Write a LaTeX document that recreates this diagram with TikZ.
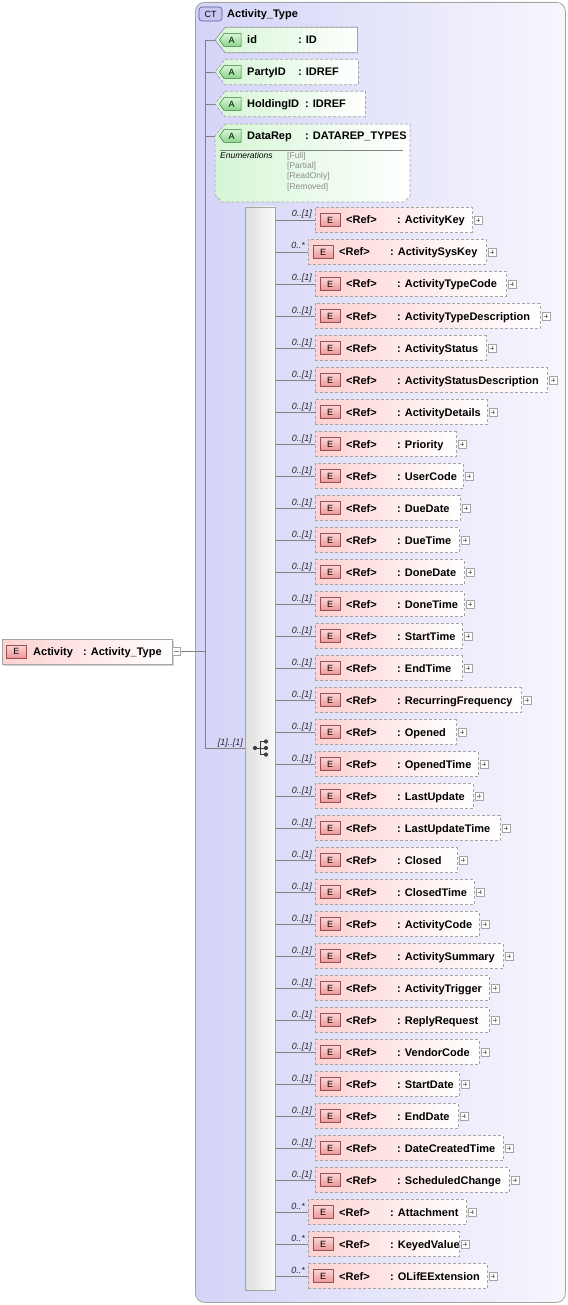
\documentclass[tikz,border=0pt]{standalone}
\usepackage{fontspec}
\setmainfont{Liberation Sans}
\usetikzlibrary{calc,shadows}
\definecolor{pinkL}{RGB}{253,210,210}
\definecolor{greenL}{RGB}{214,246,214}
\definecolor{lavL}{RGB}{212,212,248}
\definecolor{lavR}{RGB}{246,246,253}
\definecolor{lineC}{RGB}{130,130,130}
\definecolor{brd}{RGB}{165,165,165}
\definecolor{eTop}{RGB}{252,214,214}
\definecolor{eBot}{RGB}{238,150,150}
\definecolor{eBrd}{RGB}{150,80,80}
\definecolor{aTop}{RGB}{214,246,214}
\definecolor{aBot}{RGB}{140,210,140}
\definecolor{aBrd}{RGB}{60,120,60}
\definecolor{ctFill}{RGB}{200,200,242}
\definecolor{ctBrd}{RGB}{90,90,150}
\definecolor{multC}{RGB}{40,40,40}
\definecolor{enumC}{RGB}{140,140,140}
\definecolor{dotC}{RGB}{60,60,60}
\definecolor{seqL}{RGB}{222,222,222}
\definecolor{seqR}{RGB}{250,250,250}
\newcommand\mlone{0..[1]}
\newcommand\mlmany{0..*}
\begin{document}
\begin{tikzpicture}[x=1pt,y=-1pt,
  conn/.style={draw=lineC,line width=0.7pt},
  elbox/.style={draw=brd,dash pattern=on 3pt off 2pt,line width=0.7pt,left color=pinkL,right color=white,inner sep=0pt,minimum height=25pt,anchor=west},
  mainbox/.style={draw=brd,line width=0.7pt,left color=pinkL,right color=white,inner sep=0pt,minimum height=25pt,anchor=west,drop shadow={shadow xshift=2pt,shadow yshift=-2pt,fill=gray,opacity=0.35}},
  ebadge/.style={draw=eBrd,line width=0.5pt,top color=eTop,bottom color=eBot,minimum width=20pt,minimum height=13pt,inner sep=0pt,font=\fontsize{9}{9}\selectfont},
  nametxt/.style={font=\bfseries\fontsize{11}{13}\selectfont,inner sep=0pt,anchor=base west},
  mult/.style={font=\itshape\fontsize{9}{10}\selectfont,inner sep=0pt,anchor=base east,text=multC},
  plusic/.style={draw=brd,fill=white,minimum size=8pt,inner sep=0pt,line width=0.5pt,
    path picture={\draw[lineC,line width=0.6pt] ([xshift=1.8pt]path picture bounding box.west) -- ([xshift=-1.8pt]path picture bounding box.east) ([yshift=-1.8pt]path picture bounding box.north) -- ([yshift=1.8pt]path picture bounding box.south);}},
  minusic/.style={draw=brd,fill=white,minimum size=8pt,inner sep=0pt,line width=0.5pt,
    path picture={\draw[lineC,line width=0.6pt] ([xshift=1.8pt]path picture bounding box.west) -- ([xshift=-1.8pt]path picture bounding box.east);}},
  attrbox/.style={draw=brd,line width=0.7pt,left color=greenL,right color=white},
  abadge/.style={draw=aBrd,line width=0.5pt,top color=aTop,bottom color=aBot},
  enumtxt/.style={font=\fontsize{8.5}{9}\selectfont,inner sep=0pt,anchor=base west,text=enumC}
]
\useasboundingbox (0,0) rectangle (567,1305);

% complex type container
\node[draw=brd,line width=0.8pt,rounded corners=9pt,left color=lavL,right color=lavR,minimum width=370pt,minimum height=1300pt,inner sep=0pt,anchor=north west] (ct) at (195,2) {};
\node[draw=ctBrd,line width=0.6pt,fill=ctFill,rounded corners=3pt,minimum width=23pt,minimum height=14pt,inner sep=0pt,font=\fontsize{9}{9}\selectfont] (ctb) at (210.5,14) {CT};
\node[nametxt] (ctt) at (227,18) {Activity\_Type};

% junction
\coordinate (jn) at (205,748);

% attributes
\foreach \k/\nm/\ty/\yy/\rx/\cx/\dsh in {1/id/ID/40/357/298/solid,2/PartyID/IDREF/72/358/298/dashed,3/HoldingID/IDREF/104/365/305/dashed}{
  \pgfmathsetmacro\ww{\rx-215}
  \node[inner sep=0pt,minimum width=\ww pt,minimum height=25pt,anchor=west] (a\k) at (215,\yy) {};
  \draw[attrbox,\dsh,dash pattern=on 3pt off 2pt] ([xshift=10pt]a\k.north west) -- (a\k.north east) -- (a\k.south east) -- ([xshift=10pt]a\k.south west) -- (a\k.west) -- cycle;
  \draw[abadge] (224,\yy-6.5) -- (241,\yy-6.5) -- (241,\yy+6.5) -- (224,\yy+6.5) -- (219.5,\yy) -- cycle;
  \node[font=\fontsize{9}{9}\selectfont,inner sep=0pt] (ab\k) at (231.5,\yy) {A};
  \node[nametxt] (an\k) at (247,\yy+4) {\nm};
  \node[nametxt] (at\k) at (\cx,\yy+4) {: \ty};
}
\ifdefined\relax\fi
% solid border for id
\draw[brd,line width=0.7pt] ([xshift=10pt]a1.north west) -- (a1.north east) -- (a1.south east) -- ([xshift=10pt]a1.south west) -- (a1.west) -- cycle;

% DataRep attribute
\node[inner sep=0pt,minimum width=195pt,minimum height=78pt,anchor=north west] (a4) at (215,124) {};
\coordinate (a4p) at (215,136);
\draw[attrbox,dash pattern=on 3pt off 2pt] (225,124) -- (410,124) -- (410,196) -- (404,202) -- (222,202) -- (215,195) -- (a4p) -- cycle;
\draw[abadge] (224,129.5) -- (241,129.5) -- (241,142.5) -- (224,142.5) -- (219.5,136) -- cycle;
\node[font=\fontsize{9}{9}\selectfont,inner sep=0pt] (ab4) at (231.5,136) {A};
\node[nametxt] (an4) at (247,140) {DataRep};
\node[nametxt] (at4) at (305,140) {: DATAREP\_TYPES};
\draw[lineC,line width=0.5pt] (220,150) -- (403,150);
\node[font=\itshape\fontsize{8.5}{9}\selectfont,inner sep=0pt,anchor=base west] (enl) at (220,159) {Enumerations};
\node[enumtxt] (ev1) at (287,158.5) {[Full]};
\node[enumtxt] (ev2) at (287,168.5) {[Partial]};
\node[enumtxt] (ev3) at (287,179) {[ReadOnly]};
\node[enumtxt] (ev4) at (287,189.5) {[Removed]};

% sequence box
\node[draw=brd,line width=0.7pt,left color=seqL,right color=seqR,minimum width=30pt,minimum height=1083pt,inner sep=0pt] (seq) at (260,748.5) {};
\node[inner sep=0pt,minimum size=16pt] (seqic) at (261,748) {};
\draw[dotC,line width=0.9pt] (255,748) -- (260,748) (260,741.5) -- (260,754.5) (260,741.5) -- (266,741.5) (260,748) -- (266,748) (260,754.5) -- (266,754.5);
\fill[dotC] (255,748) circle (2.1) (266,741.5) circle (2.1) (266,748) circle (2.1) (266,754.5) circle (2.1);

% tree connectors
\draw[conn] (a1.west -| jn) -- (jn) -- (seq.west |- jn);
\foreach \k in {1,2,3}{\draw[conn] (a\k.west -| jn) -- (a\k.west);}
\draw[conn] (a4p -| jn) -- (a4p);
\node[mult] (seqm) at (243,745) {[1]..[1]};

% main element
\node[mainbox,minimum width=170pt] (act) at (2,651.5) {};
\node[ebadge] (actb) at (16.5,651.5) {E};
\node[nametxt] (actn) at (33,655.5) {Activity};
\node[nametxt] (actt) at (83,655.5) {: Activity\_Type};
\node[minusic] (mi) at (176.5,651.5) {};
\draw[conn] (mi.east) -- (mi.east -| jn);

% child elements
\foreach \i/\nm/\lx/\px/\ml in {
 1/ActivityKey/315/478/\mlone,
 2/ActivitySysKey/308/492/\mlmany,
 3/ActivityTypeCode/315/512/\mlone,
 4/ActivityTypeDescription/315/546/\mlone,
 5/ActivityStatus/315/492/\mlone,
 6/ActivityStatusDescription/315/553/\mlone,
 7/ActivityDetails/315/493/\mlone,
 8/Priority/315/462/\mlone,
 9/UserCode/315/469/\mlone,
 10/DueDate/315/466/\mlone,
 11/DueTime/315/465/\mlone,
 12/DoneDate/315/470/\mlone,
 13/DoneTime/315/470/\mlone,
 14/StartTime/315/468/\mlone,
 15/EndTime/315/468/\mlone,
 16/RecurringFrequency/315/527/\mlone,
 17/Opened/315/462/\mlone,
 18/OpenedTime/315/484/\mlone,
 19/LastUpdate/315/479/\mlone,
 20/LastUpdateTime/315/506/\mlone,
 21/Closed/315/463/\mlone,
 22/ClosedTime/315/480/\mlone,
 23/ActivityCode/315/485/\mlone,
 24/ActivitySummary/315/509/\mlone,
 25/ActivityTrigger/315/495/\mlone,
 26/ReplyRequest/315/495/\mlone,
 27/VendorCode/315/485/\mlone,
 28/StartDate/315/465/\mlone,
 29/EndDate/315/464/\mlone,
 30/DateCreatedTime/315/509/\mlone,
 31/ScheduledChange/315/515/\mlone,
 32/Attachment/308/472/\mlmany,
 33/KeyedValue/308/465/\mlmany,
 34/OLifEExtension/308/493/\mlmany}{
  \pgfmathsetmacro\yy{220+32*(\i-1)}
  \pgfmathsetmacro\ww{\px-6-\lx}
  \node[elbox,minimum width=\ww pt] (e\i) at (\lx,\yy) {};
  \node[ebadge] (b\i) at ([xshift=15pt]e\i.west) {E};
  \node[nametxt] (r\i) at ([xshift=31pt,yshift=-4pt]e\i.west) {<Ref>};
  \node[nametxt] (n\i) at ([xshift=82pt,yshift=-4pt]e\i.west) {: \nm};
  \node[plusic] (p\i) at ([xshift=5.5pt]e\i.east) {};
  \draw[conn] (seq.east |- e\i.west) -- (e\i.west);
  \node[mult] (m\i) at ([xshift=-3pt,yshift=3pt]e\i.west) {\ml};
}
\end{tikzpicture}
\end{document}
